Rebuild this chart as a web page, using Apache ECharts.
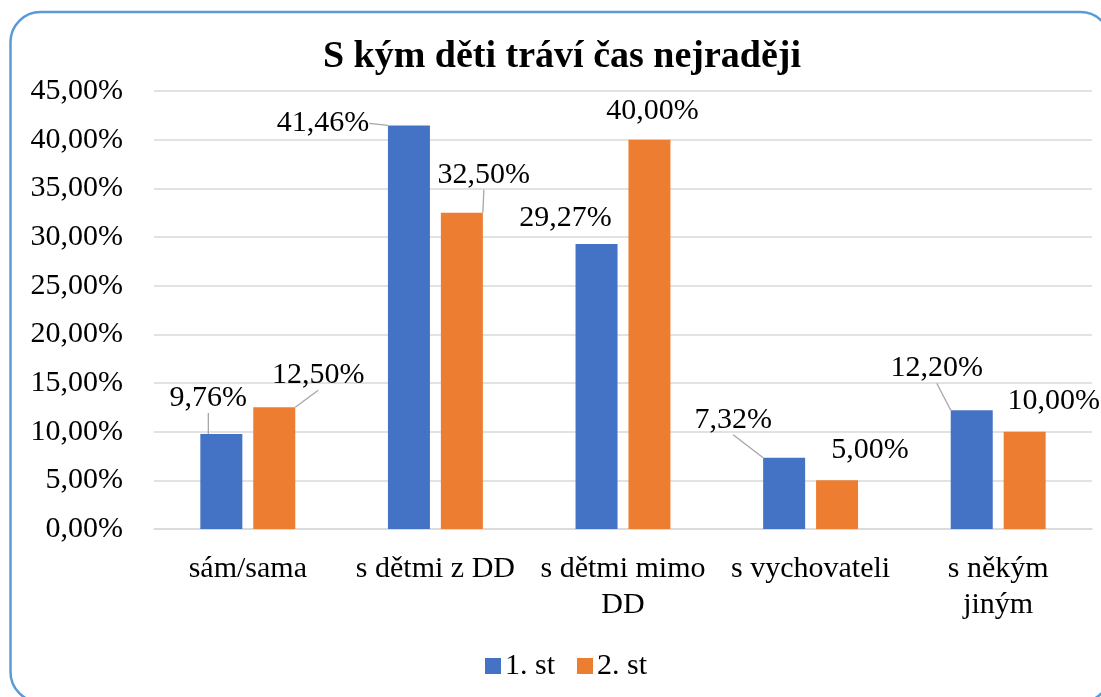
<!DOCTYPE html>
<html>
<head>
<meta charset="utf-8">
<script src="https://cdn.jsdelivr.net/npm/echarts@6/dist/echarts.min.js"></script>
<style>html,body{margin:0;padding:0;background:#fff}#c{width:1101px;height:697px}</style>
</head>
<body>
<div id="c"></div>
<script>
const title = 'S kým děti tráví čas nejraději';
const categories = ['sám/sama', 's dětmi z DD', 's dětmi mimo\nDD', 's vychovateli', 's někým\njiným'];
const seriesNames = ['1. st', '2. st'];
const st1 = [9.76, 41.46, 29.27, 7.32, 12.20];
const st2 = [12.50, 32.50, 40.00, 5.00, 10.00];

// label offsets (layout only)
const offs = [
  [[-13,-16],[-86,18],[-31,-6],[-51,-18],[-35,-22]],
  [[44,-12],[22,-18],[3,-9],[33,-10],[29,-11]]
];
const showLine = [[true,true,false,true,true],[true,true,false,false,false]];

const F = 'Liberation Serif';
const fmt = v => v.toFixed(2).replace('.', ',') + '%';
const chart = echarts.init(document.getElementById('c'));
function mk(name, data, color, si) {
  return {
    name, type: 'bar', data: data.map((v,i)=>({value:v, labelLine:{show:showLine[si][i]}})),
    barWidth: 42, barGap: '26%',
    itemStyle: { color },
    label: { show: true, position: 'top', distance: 5, fontFamily: F, fontSize: 30, color: '#000',
      formatter: p => fmt(p.value) },
    labelLine: { show: true, lineStyle: { color: '#A6A6A6', width: 1.3 } },
    labelLayout: p => ({ dx: offs[si][p.dataIndex][0], dy: offs[si][p.dataIndex][1] })
  };
}
chart.setOption({
  animation: false,
  title: { text: title, left: 562, top: 38, textAlign: 'center', padding: 0,
    textStyle: { fontFamily: F, fontSize: 38, fontWeight: 'bold', color: '#000' } },
  legend: { data: seriesNames, left: 480, top: 646, itemWidth: 16, itemHeight: 16, itemGap: 22,
    icon: 'rect', textStyle: { fontFamily: F, fontSize: 30, color: '#000', padding: [0,0,0,-1] } },
  grid: { left: 154, right: 9, top: 91, bottom: 168, containLabel: false },
  xAxis: { type: 'category', data: categories,
    axisLine: { lineStyle: { color: '#D9D9D9', width: 1.5 } }, axisTick: { show: false },
    axisLabel: { fontFamily: F, fontSize: 30, color: '#000', margin: 22, lineHeight: 36, interval: 0 } },
  yAxis: { type: 'value', min: 0, max: 45, interval: 5,
    axisLine: { show: false }, axisTick: { show: false },
    splitLine: { lineStyle: { color: '#D9D9D9', width: 1.5 } },
    axisLabel: { fontFamily: F, fontSize: 30, color: '#000', margin: 31, formatter: v => fmt(v) } },
  graphic: [{ type: 'rect', shape: { x: 10.5, y: 12, width: 1100, height: 690, r: 30 },
    style: { fill: 'none', stroke: '#5B9BD5', lineWidth: 2.5 }, silent: true, z: 100 }],
  series: [mk(seriesNames[0], st1, '#4472C4', 0), mk(seriesNames[1], st2, '#ED7D31', 1)]
});
</script>
</body>
</html>
